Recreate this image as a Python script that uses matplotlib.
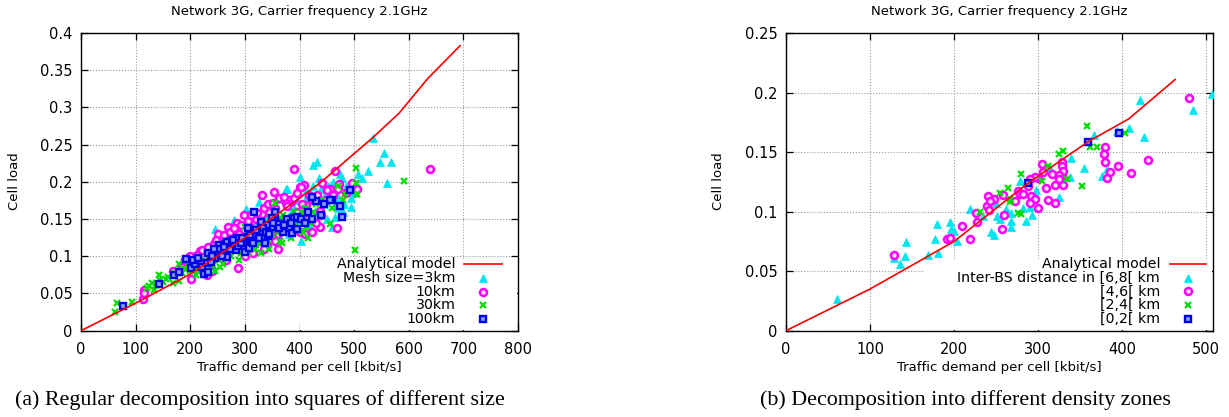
import matplotlib
matplotlib.use('Agg')
import matplotlib.pyplot as plt
from matplotlib.patches import Rectangle
from matplotlib.ticker import FuncFormatter

# ---------------- text ----------------
title = "Network 3G, Carrier frequency 2.1GHz"
xlabel = "Traffic demand per cell [kbit/s]"
ylabel = "Cell load"
caption_a = "(a) Regular decomposition into squares of different size"
caption_b = "(b) Decomposition into different density zones"
model_label = "Analytical model"
a_labels = ["Mesh size=3km", "10km", "30km", "100km"]
b_labels = ["Inter-BS distance in [6,8[ km", "[4,6[ km", "[2,4[ km", "[0,2[ km"]

# ---------------- panel (a) data ----------------
a_model_x = [0, 100, 200, 300, 400, 440, 535, 582, 635, 694]
a_model_y = [0, 0.037, 0.076, 0.125, 0.178, 0.200, 0.260, 0.292, 0.339, 0.383]

a_3km_x = [246, 302, 326, 346, 368, 378, 400, 425, 432, 475, 508, 526, 535, 555, 547, 568, 560,
           494, 494, 465, 465, 459, 403, 375, 412, 318, 280, 393, 349, 440, 455, 485, 470, 430,
           420, 360, 338, 300, 270, 230, 210, 380, 445, 480, 500, 410, 390,
           445, 452, 462, 478, 488, 505, 515, 425, 435, 415, 395, 385, 405, 450, 470, 482]
a_3km_y = [0.136, 0.164, 0.173, 0.172, 0.177, 0.190, 0.206, 0.223, 0.226, 0.211, 0.210, 0.215, 0.259,
           0.239, 0.226, 0.227, 0.199, 0.178, 0.166, 0.169, 0.153, 0.140, 0.121, 0.191, 0.188, 0.144,
           0.149, 0.149, 0.160, 0.190, 0.185, 0.195, 0.180, 0.160, 0.140, 0.140, 0.150, 0.130, 0.120,
           0.100, 0.090, 0.130, 0.170, 0.160, 0.185, 0.175, 0.165,
           0.180, 0.195, 0.200, 0.205, 0.190, 0.195, 0.205, 0.195, 0.205, 0.185, 0.175, 0.160, 0.150,
           0.150, 0.165, 0.170]

a_10km_x = [638, 390, 465, 353, 401, 409, 442, 472, 497, 506, 455, 116, 114, 116, 169, 201, 218, 243,
            255, 287, 299, 403, 400, 422, 437, 437, 450, 469, 418, 412, 384, 386, 331, 331, 380, 375,
            390, 345, 320, 310, 290, 275, 260, 235, 225, 210, 195, 185, 240, 265, 300, 330, 360, 345,
            370, 395, 355, 415, 285, 270, 250, 315, 340, 230, 360, 440, 425, 470,
            190, 200, 212, 222, 232, 248, 262, 272, 280, 292, 305, 312, 322, 335, 342, 352, 362, 372,
            378, 395, 405, 432, 448, 462, 485, 300, 315, 335, 355, 385, 410, 430]
a_10km_y = [0.217, 0.217, 0.215, 0.187, 0.193, 0.196, 0.199, 0.197, 0.199, 0.190, 0.190, 0.055, 0.042,
            0.051, 0.0805, 0.070, 0.107, 0.117, 0.111, 0.084, 0.155, 0.193, 0.132, 0.133, 0.140, 0.161,
            0.189, 0.138, 0.182, 0.169, 0.173, 0.176, 0.182, 0.157, 0.176, 0.172, 0.178, 0.160, 0.150,
            0.140, 0.130, 0.125, 0.118, 0.105, 0.100, 0.095, 0.090, 0.085, 0.080, 0.095, 0.110, 0.120,
            0.130, 0.135, 0.150, 0.160, 0.165, 0.150, 0.145, 0.140, 0.130, 0.125, 0.115, 0.075, 0.110,
            0.155, 0.175, 0.190,
            0.095, 0.100, 0.102, 0.108, 0.112, 0.122, 0.128, 0.132, 0.138, 0.142, 0.148, 0.155, 0.158,
            0.165, 0.170, 0.172, 0.178, 0.180, 0.168, 0.185, 0.170, 0.183, 0.175, 0.182, 0.185, 0.100,
            0.105, 0.110, 0.120, 0.135, 0.130, 0.145]

a_30km_x = [63, 66, 94, 125, 133, 142, 130, 168, 180, 180, 501, 456, 506, 504, 504, 484, 591, 346, 356,
            406, 406, 368, 120, 138, 150, 155, 190, 200, 210, 215, 225, 235, 245, 250, 260, 265, 275,
            280, 290, 295, 305, 310, 320, 325, 335, 340, 350, 360, 370, 380, 390, 395, 410, 420, 430,
            440, 300, 285, 270, 230, 205, 255, 345, 330, 365, 385, 415, 470, 480, 460,
            185, 195, 205, 215, 220, 228, 238, 242, 248, 252, 258, 262, 268, 272, 278, 282, 288, 292,
            298, 302, 308, 315, 318, 322, 328, 332, 338, 342, 348, 355, 362, 368, 375, 382, 388, 392,
            400, 405, 412, 425, 160, 170, 145]
a_30km_y = [0.0255, 0.0368, 0.039, 0.060, 0.0546, 0.0748, 0.0636, 0.0636, 0.067, 0.089, 0.108, 0.143,
            0.184, 0.218, 0.199, 0.184, 0.201, 0.152, 0.171, 0.149, 0.133, 0.118, 0.058, 0.062, 0.065,
            0.070, 0.083, 0.080, 0.075, 0.090, 0.085, 0.095, 0.080, 0.100, 0.090, 0.108, 0.100, 0.115,
            0.095, 0.120, 0.105, 0.125, 0.115, 0.135, 0.125, 0.140, 0.130, 0.145, 0.155, 0.140, 0.160,
            0.135, 0.165, 0.145, 0.170, 0.175, 0.140, 0.125, 0.110, 0.105, 0.095, 0.085, 0.110, 0.105,
            0.120, 0.125, 0.125, 0.195, 0.175, 0.165,
            0.078, 0.090, 0.085, 0.080, 0.095, 0.090, 0.100, 0.088, 0.105, 0.095, 0.100, 0.112, 0.104,
            0.118, 0.108, 0.120, 0.112, 0.105, 0.125, 0.115, 0.130, 0.120, 0.110, 0.128, 0.118, 0.138,
            0.130, 0.122, 0.135, 0.140, 0.132, 0.150, 0.145, 0.132, 0.150, 0.142, 0.150, 0.158, 0.140,
            0.160, 0.072, 0.078, 0.068]

a_100km_x = [76.5, 142, 171, 180, 193, 201, 209, 219, 230, 225, 233, 233, 246, 246, 253, 265, 268, 268,
             276, 283, 290, 298, 300, 305, 305, 316, 307, 318, 329, 329, 337, 343, 349, 356, 356, 365,
             381, 386, 390, 396, 396, 423, 431, 459, 475, 477, 492, 422, 456, 280, 285, 260, 312, 320,
             340, 350, 370, 250, 240, 360,
             205, 215, 222, 238, 243, 258, 262, 272, 278, 288, 293, 295, 310, 315, 325, 333, 338, 345,
             352, 363, 372, 378, 385, 402, 410, 415, 440, 445]
a_100km_y = [0.0332, 0.0623, 0.0748, 0.0784, 0.0958, 0.0837, 0.0895, 0.091, 0.0913, 0.0761, 0.0792,
             0.1047, 0.103, 0.098, 0.115, 0.117, 0.0985, 0.1195, 0.120, 0.1083, 0.122, 0.120, 0.106,
             0.1374, 0.1253, 0.160, 0.1114, 0.1298, 0.1455, 0.1342, 0.1173, 0.1275, 0.1396, 0.1597,
             0.1486, 0.144, 0.1374, 0.1316, 0.151, 0.137, 0.153, 0.1495, 0.1745, 0.1754, 0.1674, 0.153,
             0.189, 0.180, 0.176, 0.115, 0.125, 0.108, 0.122, 0.135, 0.142, 0.152, 0.133, 0.110, 0.100,
             0.143,
             0.095, 0.098, 0.085, 0.092, 0.110, 0.100, 0.113, 0.110, 0.122, 0.114, 0.118, 0.125, 0.128,
             0.118, 0.125, 0.138, 0.132, 0.130, 0.145, 0.138, 0.142, 0.150, 0.145, 0.150, 0.145, 0.160,
             0.155, 0.170]

a_xticks = [0, 100, 200, 300, 400, 500, 600, 700, 800]
a_yticks = [0, 0.05, 0.1, 0.15, 0.2, 0.25, 0.3, 0.35, 0.4]

# ---------------- panel (b) data ----------------
b_model_x = [0, 100, 200, 288, 359, 408, 463]
b_model_y = [0, 0.035, 0.075, 0.124, 0.1585, 0.178, 0.211]

b_68_x = [507, 484, 421, 426, 408, 394, 367, 355, 339, 338, 382, 376, 380, 325, 314, 278, 297, 61, 129,
          136, 142, 143, 169, 181, 177, 180, 195, 196, 200, 204, 219, 234, 244, 248, 250, 251, 255, 262,
          268, 268, 268, 282, 286, 290, 293]
b_68_y = [0.199, 0.185, 0.194, 0.163, 0.170, 0.168, 0.164, 0.137, 0.145, 0.129, 0.136, 0.130, 0.144,
          0.112, 0.137, 0.126, 0.118, 0.0263, 0.0608, 0.056, 0.0627, 0.0748, 0.0636, 0.065, 0.077, 0.090,
          0.091, 0.085, 0.084, 0.075, 0.102, 0.096, 0.083, 0.080, 0.107, 0.096, 0.094, 0.102, 0.099,
          0.092, 0.087, 0.103, 0.092, 0.104, 0.097]

b_46_x = [479, 431, 410, 395, 386, 382, 380, 378, 380, 328, 328, 328, 330, 325, 325, 316, 306, 305, 300,
          320, 329, 309, 296, 290, 240, 248, 258, 276, 278, 292, 296, 312, 129, 191, 195, 209, 219, 226,
          227, 239, 243, 241, 257, 259, 282, 273, 300, 290, 320, 288]
b_46_y = [0.1955, 0.143, 0.1328, 0.138, 0.133, 0.1286, 0.142, 0.148, 0.154, 0.142, 0.138, 0.130, 0.134,
          0.131, 0.127, 0.132, 0.133, 0.140, 0.128, 0.122, 0.122, 0.120, 0.129, 0.127, 0.113, 0.111,
          0.114, 0.117, 0.1145, 0.113, 0.111, 0.110, 0.0636, 0.077, 0.078, 0.088, 0.077, 0.0986, 0.0916,
          0.105, 0.109, 0.101, 0.0854, 0.097, 0.115, 0.109, 0.103, 0.107, 0.107, 0.1215]

b_24_x = [358, 362, 370, 403, 330, 325, 312, 304, 334, 352, 280, 264, 255, 266, 231, 267, 276, 280]
b_24_y = [0.172, 0.154, 0.154, 0.166, 0.151, 0.148, 0.138, 0.126, 0.127, 0.1215, 0.132, 0.120, 0.116,
          0.111, 0.100, 0.108, 0.099, 0.098]

b_02_x = [396, 359, 288]
b_02_y = [0.166, 0.1585, 0.124]

b_xticks = [0, 100, 200, 300, 400, 500]
b_yticks = [0, 0.05, 0.1, 0.15, 0.2, 0.25]

# ---------------- styles ----------------
CYAN = '#00e5ee'
MAG = '#ff00ff'
GREEN = '#00dd00'
BLUE = '#0000e8'
RED = '#ff0000'

styles = [
    dict(marker='^', ms=5.6, mfc=CYAN, mec=CYAN, mew=0.5),
    dict(marker='o', ms=5.0, mfc='#ffe0ff', mec=MAG, mew=1.8),
    dict(marker='x', ms=4.4, mfc=GREEN, mec=GREEN, mew=1.6),
    dict(marker='s', ms=4.6, mfc='#8aa0ff', mec=BLUE, mew=1.7),
]
line_style = dict(color=RED, lw=1.2)

W, H = 1229, 417
fig = plt.figure(figsize=(W / 100, H / 100), dpi=100)
plt.rcParams['font.family'] = ['DejaVu Sans']


def fmt(v, p):
    return '%g' % round(v, 4)


def setup(ax, xlim, ylim, xticks, yticks):
    ax.set_xlim(*xlim)
    ax.set_ylim(*ylim)
    ax.set_xticks(xticks)
    ax.set_yticks(yticks)
    ax.yaxis.set_major_formatter(FuncFormatter(fmt))
    ax.set_axisbelow(True)
    ax.grid(True, linestyle=(0, (1, 1.6)), color='#9a9a9a', linewidth=0.8)
    ax.tick_params(direction='in', length=5, width=0.9, top=True, right=True,
                   labelsize=10.5, colors='black')
    ax.tick_params(axis='x', pad=8)
    ax.tick_params(axis='y', pad=6)
    for s in ax.spines.values():
        s.set_linewidth(1.0)
        s.set_color('black')


def draw_key(ax, labels, series_styles, text_x, lx0, lx1, mx, y0, dy, box):
    ax.add_patch(Rectangle((box[0], box[1]), box[2], box[3], transform=ax.transAxes,
                           facecolor='white', edgecolor='none', zorder=1))
    ax.text(text_x, y0, model_label, transform=ax.transAxes, ha='right', va='center',
            fontsize=10.2, zorder=6)
    ax.plot([lx0, lx1], [y0, y0], transform=ax.transAxes, zorder=6, **line_style)
    for i, (lab, st) in enumerate(zip(labels, series_styles)):
        y = y0 - (i + 1) * dy
        ax.text(text_x, y, lab, transform=ax.transAxes, ha='right', va='center',
                fontsize=10.2, zorder=6)
        ax.plot([mx], [y], transform=ax.transAxes, linestyle='none', zorder=6, **st)


# ---------------- panel (a) ----------------
axa = fig.add_axes([81 / W, (H - 330.7) / H, 437 / W, 297.7 / H])
setup(axa, (0, 800), (0, 0.4), a_xticks, a_yticks)
for xs, ys, st in zip([a_3km_x, a_10km_x, a_30km_x, a_100km_x],
                      [a_3km_y, a_10km_y, a_30km_y, a_100km_y], styles):
    axa.plot(xs, ys, linestyle='none', zorder=3, **st)
axa.plot(a_model_x, a_model_y, zorder=4, **line_style)
draw_key(axa, a_labels, styles, 0.857, 0.877, 0.963, 0.919, 0.223, 0.046,
         (0.5, 0.003, 0.497, 0.238))

# ---------------- panel (b) ----------------
axb = fig.add_axes([786 / W, (H - 330.7) / H, 427 / W, 297.7 / H])
setup(axb, (0, 508), (0, 0.25), b_xticks, b_yticks)
for xs, ys, st in zip([b_68_x, b_46_x, b_24_x, b_02_x],
                      [b_68_y, b_46_y, b_24_y, b_02_y], styles):
    axb.plot(xs, ys, linestyle='none', zorder=3, **st)
axb.plot(b_model_x, b_model_y, zorder=4, **line_style)
draw_key(axb, b_labels, styles, 0.876, 0.899, 0.984, 0.941, 0.224, 0.046,
         (0.323, 0.003, 0.674, 0.238))

# ---------------- texts ----------------
for cx, ylx in [(299.5, 14), (999.5, 719)]:
    fig.text(cx / W, 1 - 12 / H, title, ha='center', va='center', fontsize=9.5)
    fig.text(cx / W, 1 - 367 / H, xlabel, ha='center', va='center', fontsize=9.5)
    fig.text(ylx / W, 1 - 181 / H, ylabel, ha='center', va='center', fontsize=9.5,
             rotation=90)

fig.text(260 / W, 1 - 400 / H, caption_a, ha='center', va='center', fontsize=15.8,
         family='Liberation Serif')
fig.text(965 / W, 1 - 400 / H, caption_b, ha='center', va='center', fontsize=15.8,
         family='Liberation Serif')

fig.savefig('out.png', dpi=100)
